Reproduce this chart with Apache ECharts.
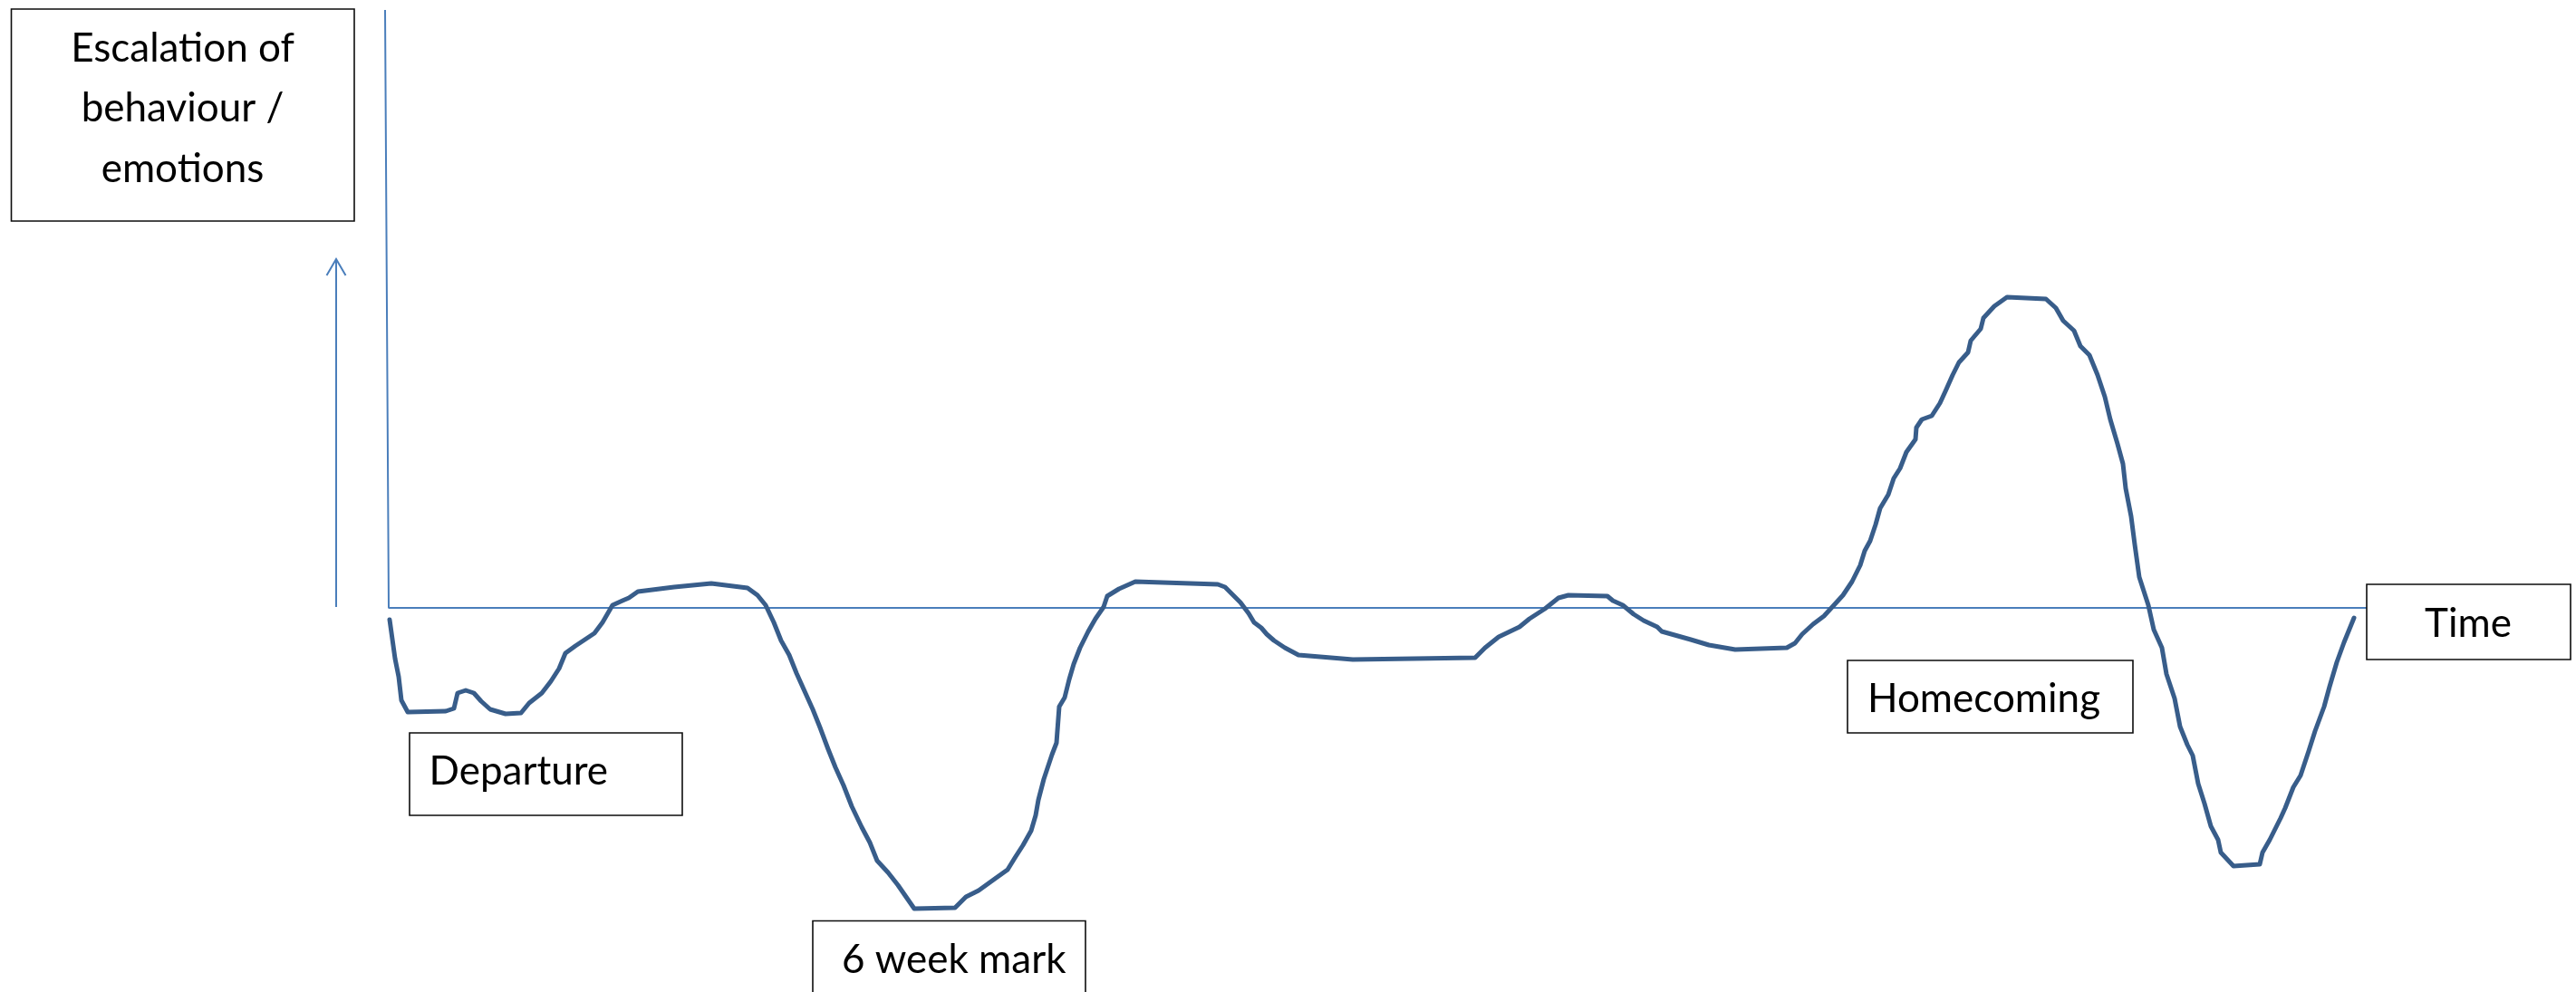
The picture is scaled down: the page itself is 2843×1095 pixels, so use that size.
<!DOCTYPE html>
<html>
<head>
<meta charset="utf-8">
<script src="https://cdn.jsdelivr.net/npm/echarts/dist/echarts.min.js"></script>
<style>
html,body{margin:0;padding:0;background:#fff;}
#chart{width:2843px;height:1095px;}
</style>
</head>
<body>
<div id="chart"></div>
<script>
// Time (arbitrary units) and escalation level (0 = baseline)
const timeValues = [0.1,0.7,1.1,1.4,2.1,6.3,7.2,7.6,8.5,9.4,10.2,11.2,12.9,14.6,15.5,16.9,17.9,18.8,19.5,20.6,21.8,22.7,23.6,24.7,25.8,26.5,27.5,31.5,35.6,39.6,40.7,41.6,42.5,43.3,44.2,45.0,45.9,46.8,47.6,48.5,49.3,50.2,51.1,52.2,53.1,53.9,55.1,56.2,58.0,62.5,63.7,65.1,66.9,68.3,69.1,70.0,70.9,71.4,71.7,72.3,73.2,73.7,74.0,74.6,75.1,75.6,76.3,77.2,78.0,78.9,79.3,80.6,82.4,91.5,92.3,93.2,94.0,94.9,95.5,96.3,96.9,97.7,98.9,100.4,106.4,119.9,121.0,122.5,124.8,125.9,127.6,129.1,130.2,134.5,135.1,136.2,137.4,138.5,140.0,140.5,143.7,145.7,148.6,154.3,155.2,156.0,157.2,158.4,159.5,160.5,161.5,162.4,162.9,163.5,164.1,164.6,165.5,166.1,166.8,167.5,168.5,168.6,169.2,170.3,171.2,171.8,172.6,173.3,174.3,174.6,175.7,176.0,177.2,178.6,182.9,184.0,184.8,186.0,186.7,187.7,188.6,189.4,190.0,190.8,191.4,191.7,192.3,192.7,193.2,194.2,194.8,195.7,196.2,197.1,197.7,198.5,199.1,199.7,200.4,201.1,201.9,202.2,203.6,206.5,206.8,207.6,208.8,209.3,210.2,211.0,211.9,212.6,213.6,214.2,215.0,215.8,216.9];
const escalationValues = [-1.3,-5.6,-7.6,-10.2,-11.5,-11.4,-11.1,-9.4,-9.1,-9.4,-10.3,-11.2,-11.7,-11.6,-10.5,-9.4,-8.1,-6.7,-5.0,-4.2,-3.4,-2.8,-1.6,0.3,0.8,1.1,1.8,2.3,2.7,2.2,1.4,0.3,-1.6,-3.6,-5.2,-7.2,-9.2,-11.2,-13.2,-15.6,-17.6,-19.6,-21.9,-24.2,-25.9,-27.9,-29.2,-30.6,-33.2,-33.1,-31.9,-31.2,-29.9,-28.9,-27.6,-26.2,-24.6,-22.9,-21.2,-18.9,-16.2,-14.9,-10.9,-9.9,-7.9,-6.2,-4.4,-2.6,-1.2,0.1,1.3,2.1,2.9,2.6,2.3,1.4,0.6,-0.6,-1.6,-2.2,-2.9,-3.6,-4.4,-5.2,-5.7,-5.5,-4.4,-3.2,-2.1,-1.2,-0.1,1.1,1.4,1.3,0.8,0.3,-0.7,-1.4,-2.1,-2.6,-3.5,-4.1,-4.6,-4.4,-3.9,-2.9,-1.8,-0.9,0.3,1.4,2.9,4.7,6.3,7.4,9.2,11.0,12.5,14.3,15.4,17.2,18.6,19.9,20.8,21.2,22.6,23.9,25.7,27.1,28.2,29.5,30.8,32.0,33.3,34.3,34.1,33.1,31.7,30.6,28.9,27.9,25.7,23.3,20.8,18.1,15.9,13.2,10.1,7.0,3.4,0.3,-2.4,-4.4,-7.3,-10.0,-13.1,-15.1,-16.3,-19.4,-21.6,-24.1,-25.6,-27.0,-28.5,-28.3,-27.0,-25.6,-23.2,-22.1,-19.8,-18.5,-15.8,-13.6,-10.9,-8.7,-6.0,-3.8,-1.1];

// Axis frame: top of the escalation axis, origin, end of time axis
const axisTime = [-0.4, 0, 218.3];
const axisEscalation = [66, 0, 0];

// Text labels
const yAxisTitle = ['Escalation of', 'behaviour /', 'emotions'];
const xAxisTitle = 'Time';
const phaseLabels = ['Departure', '6 week mark', 'Homecoming'];

const chart = echarts.init(document.getElementById('chart'), null, {renderer: 'canvas'});

const FONT = '44px Lato, Carlito, "Open Sans", sans-serif';
const BOX_STROKE = '#0d0d0d';
const AXIS_COLOR = '#4A7EBB';

function box(x, y, w, h) {
  return {type: 'rect', shape: {x: x, y: y, width: w, height: h}, style: {fill: '#fff', stroke: BOX_STROKE, lineWidth: 1.6}, z: 10};
}
function label(text, x, y, align) {
  return {type: 'text', style: {text: text, x: x, y: y, font: FONT, fill: '#000', textAlign: align || 'left', textVerticalAlign: 'middle'}, z: 11};
}

const graphics = [
  // y axis title box
  box(12.5, 10, 378.5, 234),
  label(yAxisTitle[0], 201.5, 54, 'center'),
  label(yAxisTitle[1], 201.5, 120, 'center'),
  label(yAxisTitle[2], 201.5, 187, 'center'),
  // up arrow
  {type: 'line', shape: {x1: 371, y1: 670, x2: 371, y2: 287}, style: {stroke: AXIS_COLOR, lineWidth: 2}, z: 5},
  {type: 'polyline', shape: {points: [[360.5, 304], [371, 286], [381.5, 304]]}, style: {stroke: AXIS_COLOR, lineWidth: 2, fill: null}, z: 5},
  // phase boxes
  box(452, 809, 301, 91),
  label(phaseLabels[0], 473.5, 852),
  box(897, 1016.5, 301, 91),
  label(phaseLabels[1], 929, 1060),
  box(2039, 729, 315, 80),
  label(phaseLabels[2], 2061, 771.5),
  box(2612, 645, 225, 83),
  label(xAxisTitle, 2724, 689, 'center')
];

chart.setOption({
  animation: false,
  backgroundColor: '#ffffff',
  grid: {left: 419, top: 11, width: 2194, height: 1060, containLabel: false},
  xAxis: {type: 'value', min: -1, max: 218.4, show: false, splitLine: {show: false}},
  yAxis: {type: 'value', min: -40, max: 66, show: false, splitLine: {show: false}},
  series: [
    {
      name: 'axes',
      type: 'line',
      data: axisTime.map((t, i) => [t, axisEscalation[i]]),
      showSymbol: false,
      symbol: 'none',
      silent: true,
      clip: false,
      lineStyle: {color: AXIS_COLOR, width: 2},
      z: 2
    },
    {
      name: 'Escalation',
      type: 'line',
      data: timeValues.map((t, i) => [t, escalationValues[i]]),
      showSymbol: false,
      symbol: 'none',
      clip: false,
      lineStyle: {color: '#385D8A', width: 5, join: 'round', cap: 'round'},
      z: 3
    }
  ],
  graphic: graphics
});
</script>
</body>
</html>
